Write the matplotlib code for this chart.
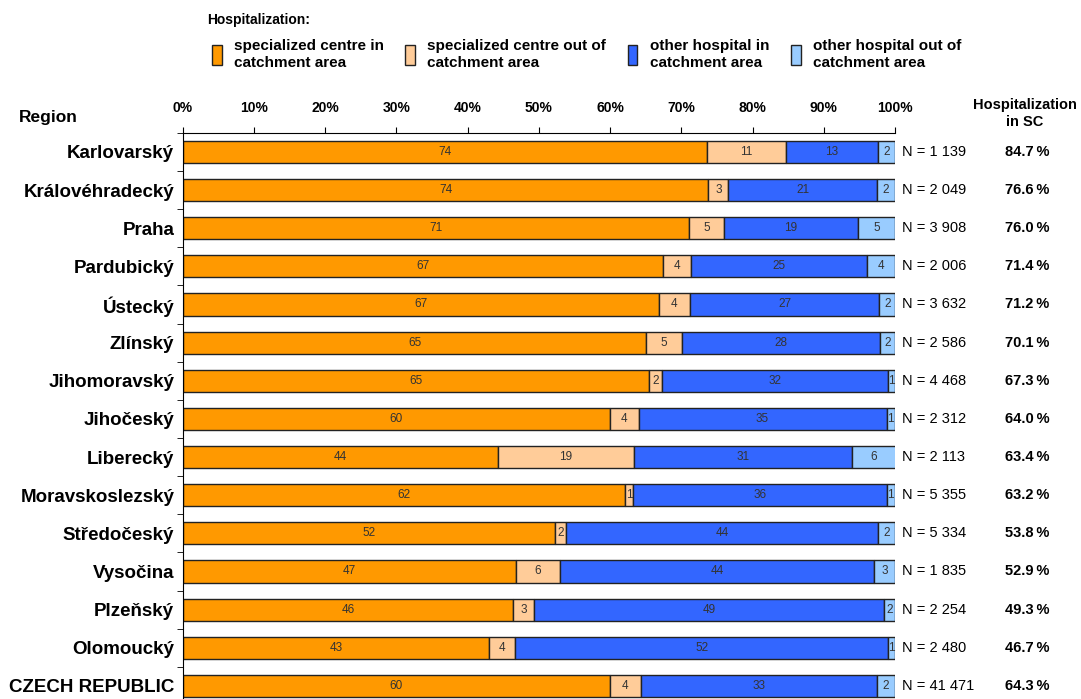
import numpy as np
import matplotlib.pyplot as plt

plt.rcParams['font.family'] = ['Liberation Sans', 'DejaVu Sans']

regions = ['Karlovarský', 'Královéhradecký', 'Praha', 'Pardubický', 'Ústecký',
           'Zlínský', 'Jihomoravský', 'Jihočeský', 'Liberecký', 'Moravskoslezský',
           'Středočeský', 'Vysočina', 'Plzeňský', 'Olomoucký', 'CZECH REPUBLIC']
sc_in = [73.6, 73.8, 71.1, 67.4, 66.8, 65.1, 65.4, 60.0, 44.2, 62.1, 52.2, 46.8, 46.4, 43.0, 60.0]
sc_out = [11.1, 2.8, 4.9, 4.0, 4.4, 5.0, 1.9, 4.0, 19.2, 1.1, 1.6, 6.1, 2.9, 3.7, 4.3]
oth_in = [12.9, 20.9, 18.8, 24.6, 26.6, 27.8, 31.7, 34.8, 30.6, 35.6, 43.8, 44.2, 49.1, 52.3, 33.2]
oth_out = [2.4, 2.5, 5.2, 4.0, 2.2, 2.1, 1.0, 1.2, 6.2, 1.2, 2.4, 2.9, 1.6, 1.0, 2.5]
n_pat = ['1 139', '2 049', '3 908', '2 006', '3 632', '2 586', '4 468', '2 312',
         '2 113', '5 355', '5 334', '1 835', '2 254', '2 480', '41 471']
sc_total = [84.7, 76.6, 76.0, 71.4, 71.2, 70.1, 67.3, 64.0, 63.4, 63.2, 53.8, 52.9, 49.3, 46.7, 64.3]

series = [sc_in, sc_out, oth_in, oth_out]
names = ['specialized centre in\ncatchment area', 'specialized centre out of\ncatchment area',
         'other hospital in\ncatchment area', 'other hospital out of\ncatchment area']
colors = ['#FF9900', '#FFCC99', '#3366FF', '#99CCFF']

fig = plt.figure(figsize=(10.81, 6.99), dpi=100)
ax = fig.add_axes([0.169, -0.0086, 0.659, 0.8186])

y = np.arange(len(regions))
left = np.zeros(len(regions))
handles = []
for vals, name, c in zip(series, names, colors):
    vals = np.array(vals)
    b = ax.barh(y, vals, left=left, height=0.58, color=c, edgecolor='#222222',
                linewidth=1.0, label=name)
    ax.bar_label(b, labels=['%d' % round(v) for v in vals], label_type='center',
                 fontsize=8.5, color='#333333')
    handles.append(b)
    left += vals

ax.set_xlim(0, 100)
ax.set_ylim(len(regions) - 0.5, -0.5)
ax.xaxis.tick_top()
ax.set_xticks(np.arange(0, 101, 10))
ax.set_xticklabels(['%d%%' % v for v in range(0, 101, 10)], fontsize=10, fontweight='bold')
ax.tick_params(axis='x', length=4, pad=9)
ax.set_yticks(y)
ax.set_yticklabels(regions, fontsize=13.5, fontweight='bold')
ax.set_yticks(np.arange(-0.5, len(regions), 1), minor=True)
ax.tick_params(axis='y', which='major', length=0, pad=6)
ax.tick_params(axis='y', which='minor', length=4)
for s in ['right', 'bottom']:
    ax.spines[s].set_visible(False)

for i in range(len(regions)):
    ax.text(101, i, 'N = ' + n_pat[i], va='center', ha='left', fontsize=10.5)
    ax.text(115.4, i, ('%.1f' % sc_total[i]) + '\u2009%', va='center', ha='left',
            fontsize=10.5, fontweight='bold')

fig.text(0.017, 0.832, 'Region', fontsize=12.5, fontweight='bold', va='center')
fig.text(0.948, 0.838, 'Hospitalization\nin SC', fontsize=10.5, fontweight='bold',
         ha='center', va='center', linespacing=1.3)
fig.text(0.192, 0.972, 'Hospitalization:', fontsize=10, fontweight='bold', va='center')

fig.legend(handles=handles, labels=names, loc='center left', bbox_to_anchor=(0.183, 0.922),
           ncol=4, frameon=False, handlelength=0.65, handleheight=1.6, handletextpad=0.8,
           columnspacing=1.4, prop={'weight': 'bold', 'size': 11})

fig.savefig('out.png', dpi=100)
